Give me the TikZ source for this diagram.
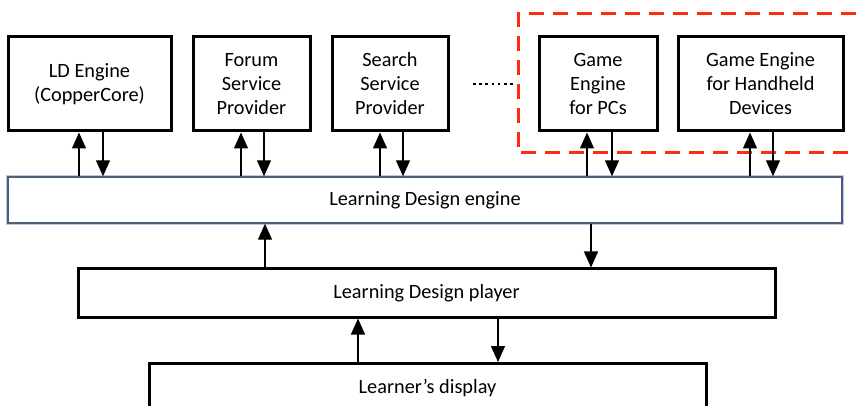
\documentclass[tikz,border=0pt]{standalone}
\usepackage{fontspec}
\setmainfont{Carlito}
\usetikzlibrary{arrows.meta}
\definecolor{dashred}{HTML}{FF2A12}
\definecolor{barline}{HTML}{4E5E76}
\definecolor{barglow}{HTML}{B5CBE8}
\begin{document}
\begin{tikzpicture}[x=1pt,y=-1pt,
  every node/.style={font=\fontsize{20.3}{24}\selectfont, align=center},
  box/.style={draw=black, line width=3pt, fill=white, inner sep=0pt},
  bar/.style={draw=barline, line width=1.4pt, fill=white, inner sep=0pt,
    preaction={draw=barglow, line width=4pt}},
  arr/.style={line width=1.3pt, -{Triangle[width=14pt,length=16pt]}},
  group/.style={draw=dashred, line width=3pt, dash pattern=on 15pt off 9pt},
]
\useasboundingbox (0,0) rectangle (857,406);
\clip (0,0) rectangle (857,406);

% dashed frame around the game engines
\draw[group] (880,14) -- (518,14) -- (518,153) -- (880,153);

% service providers
\node[box, minimum width=163, minimum height=94] (b1) at (89.5,84) {LD Engine\\(CopperCore)};
\node[box, minimum width=117, minimum height=94] (b2) at (251.5,84) {Forum\\Service\\Provider};
\node[box, minimum width=116, minimum height=94] (b3) at (390,84) {Search\\Service\\Provider};
\node[box, minimum width=118, minimum height=94] (b4) at (598,84) {Game\\Engine\\for PCs};
\node[box, minimum width=165, minimum height=94] (b5) at (760.5,84) {Game Engine\\for Handheld\\Devices};

% ellipsis between the providers
\coordinate (dotsA) at (473,84);
\coordinate (dotsB) at (516,84);
\draw[line width=2.6pt, dash pattern=on 2.6pt off 3.6pt] (dotsA) -- (dotsB);

% engine, player and display
\node[bar, minimum width=834, minimum height=46] (eng) at (425,200) {Learning Design engine};
\node[box, minimum width=697, minimum height=48] (ply) at (426.5,293) {Learning Design player};
\node[box, minimum width=557, minimum height=90, anchor=north,
  label={[anchor=center, yshift=-26pt]north:{Learner’s display}}] (dsp) at (427.5,362) {};

% provider <-> engine
\foreach \b/\u/\d in {b1/-10.5/13.5, b2/-10.5/12.5, b3/-10/13, b4/-11/14, b5/-10.5/12.5}{
  \draw[arr] ([xshift=\u pt]\b.south |- eng.north) -- ([xshift=\u pt]\b.south);
  \draw[arr] ([xshift=\d pt]\b.south) -- ([xshift=\d pt]\b.south |- eng.north);
}

% engine <-> player
\draw[arr] ([xshift=-161.5pt]ply.north) -- ([xshift=-161.5pt]ply.north |- eng.south);
\draw[arr] ([xshift=164.5pt]ply.north |- eng.south) -- ([xshift=164.5pt]ply.north);

% player <-> display
\draw[arr] ([xshift=-69.5pt]dsp.north) -- ([xshift=-69.5pt]dsp.north |- ply.south);
\draw[arr] ([xshift=70.5pt]dsp.north |- ply.south) -- ([xshift=70.5pt]dsp.north);
\end{tikzpicture}
\end{document}
